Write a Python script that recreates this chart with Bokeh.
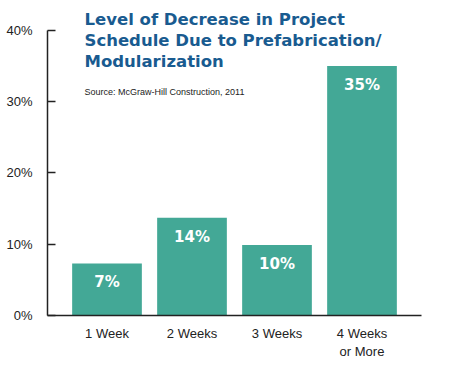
from bokeh.plotting import figure
from bokeh.models import ColumnDataSource, Label, FactorRange, Range1d
from bokeh.embed import file_html
from bokeh.resources import INLINE
from bokeh.core.properties import value

categories = ["1 Week", "2 Weeks", "3 Weeks", "4 Weeks\nor More"]
values = [7.3, 13.7, 9.9, 35.0]
value_labels = ["7%", "14%", "10%", "35%"]
y_ticks = [0, 10, 20, 30, 40]
y_tick_labels = {0: "0%", 10: "10%", 20: "20%", 30: "30%", 40: "40%"}

title_lines = ["Level of Decrease in Project",
               "Schedule Due to Prefabrication/",
               "Modularization"]
source_note = "Source: McGraw-Hill Construction, 2011"

FONT = "Liberation Sans"
BOLD_FONT = "DejaVu Sans"
TEAL = "#43a896"
BLUE = "#195b90"
DARK = "#222222"

src = ColumnDataSource(data=dict(cat=categories, val=values, lab=value_labels))

p = figure(width=454, height=366, output_backend="svg", toolbar_location=None,
           x_range=FactorRange(*categories, range_padding=0.1),
           y_range=Range1d(0, 44.2))
p.min_border_left = 47
p.min_border_right = 33
p.min_border_top = 0
p.min_border_bottom = 51
p.outline_line_color = None
p.background_fill_color = "white"
p.border_fill_color = "white"
p.xgrid.grid_line_color = None
p.ygrid.grid_line_color = None

p.vbar(x="cat", top="val", width=0.82, source=src, fill_color=TEAL, line_color=None)
p.text(x="cat", y="val", text="lab", source=src, text_align="center",
       text_baseline="top", y_offset=10, text_color="white",
       text_font=value(BOLD_FONT), text_font_style="bold", text_font_size="15px")

# y axis
ya = p.yaxis[0]
ya.ticker = y_ticks
ya.major_label_overrides = y_tick_labels
ya.bounds = (0, 40)
ya.minor_tick_line_color = None
ya.major_tick_in = 8
ya.major_tick_out = 0
ya.axis_line_width = 1.5
ya.major_tick_line_width = 1.5
ya.axis_line_color = DARK
ya.major_tick_line_color = DARK
ya.major_label_text_font = FONT
ya.major_label_text_font_size = "13px"
ya.major_label_text_color = DARK
ya.major_label_standoff = 15

xa = p.xaxis[0]
xa.major_tick_line_color = None
xa.minor_tick_line_color = None
xa.axis_line_width = 1.5
xa.axis_line_color = DARK
xa.major_label_text_font = FONT
xa.major_label_text_font_size = "13px"
xa.major_label_text_color = DARK
xa.major_label_standoff = 4

for i, line in enumerate(title_lines):
    p.add_layout(Label(x=37, y=306 - 21 * i, x_units="screen", y_units="screen",
                       text=line, text_font=BOLD_FONT, text_font_style="bold",
                       text_font_size="16.5px", text_color=BLUE, text_baseline="top"))
p.add_layout(Label(x=37, y=229, x_units="screen", y_units="screen",
                   text=source_note, text_font=FONT, text_font_size="9px",
                   text_color=DARK, text_baseline="top"))

open("out.html", "w").write(file_html(p, INLINE))
